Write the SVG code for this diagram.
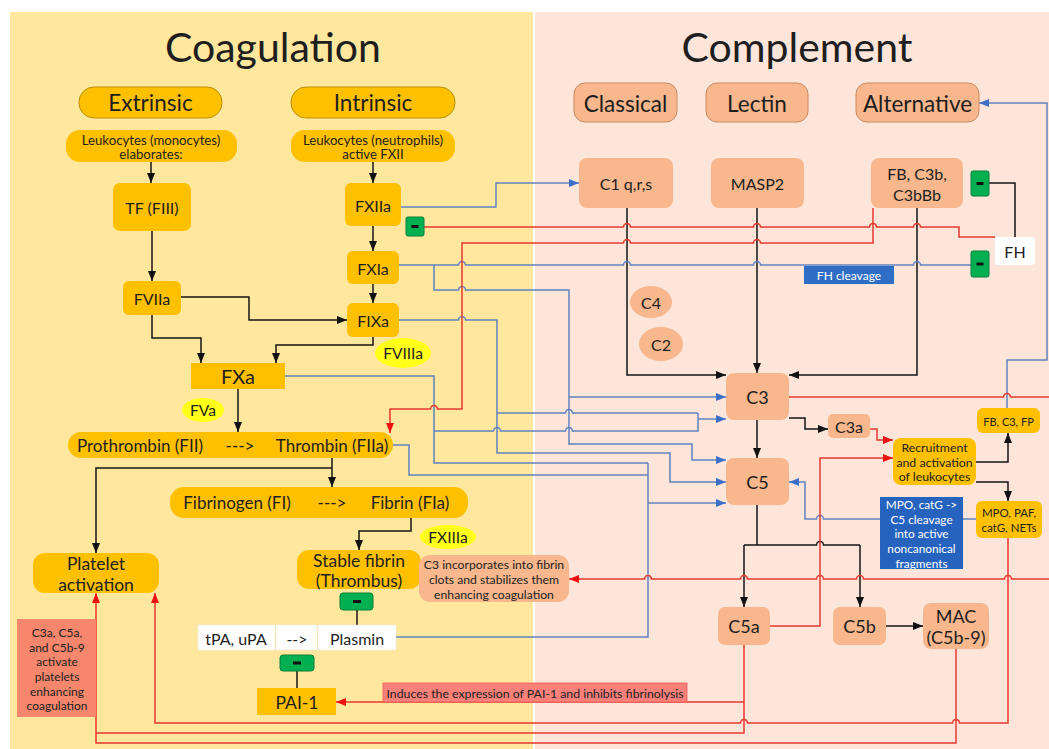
<svg xmlns="http://www.w3.org/2000/svg" width="1049" height="749" viewBox="0 0 1049 749">
<defs>
<style>
.t{font-family:Lato,"Open Sans","Liberation Sans",sans-serif;fill:#1e1e1e;text-anchor:middle;dominant-baseline:central}
.w{fill:#fff}
.or{fill:#FFC000}
.pl{fill:#FFC000;stroke:#B8900A;stroke-width:1}
.sa{fill:#F8B78C}
.sp{fill:#F8B78C;stroke:#C98A60;stroke-width:1}
.ye{fill:#FFFF1A}
.gr{fill:#00B050;stroke:#00803A;stroke-width:1}
.mb{fill:#111}
.bb{fill:#2F6EC4}
.wb{fill:#fff;stroke:#e6e6e6;stroke-width:0.5}
.bk{stroke:#151515;stroke-width:1.5;fill:none}
.bl{stroke:#5F82C0;stroke-width:1.5;fill:none}
.rd{stroke:#E8392F;stroke-width:1.5;fill:none}
.ak{marker-end:url(#ak)}
.ab{marker-end:url(#ab)}
.ar{marker-end:url(#ar)}
</style>
<marker id="ak" viewBox="0 0 10 10" refX="10" refY="5" markerWidth="10" markerHeight="10" markerUnits="userSpaceOnUse" orient="auto"><path d="M0,1 L10,5 L0,9 z" fill="#111"/></marker>
<marker id="ab" viewBox="0 0 10 10" refX="10" refY="5" markerWidth="10" markerHeight="10" markerUnits="userSpaceOnUse" orient="auto"><path d="M0,1 L10,5 L0,9 z" fill="#3C70C8"/></marker>
<marker id="ar" viewBox="0 0 10 10" refX="10" refY="5" markerWidth="10" markerHeight="10" markerUnits="userSpaceOnUse" orient="auto"><path d="M0,1 L10,5 L0,9 z" fill="#F01010"/></marker>
</defs>
<rect width="1049" height="749" fill="#fff"/>
<rect x="10" y="12" width="523" height="737" fill="#FFE79E"/>
<rect x="535" y="12" width="514" height="737" fill="#FDE5DA"/>
<text class="t" x="273" y="46" font-size="41">Coagulation</text>
<text class="t" x="797" y="46" font-size="41">Complement</text>

<g id="connectors">
<path class="bk ak" d="M151,162 V183"/>
<path class="bk ak" d="M373,162 V183"/>
<path class="bk ak" d="M152,231 V281"/>
<path class="bk ak" d="M373,226 V251"/>
<path class="bk ak" d="M373,284 V303"/>
<path class="bk ak" d="M181,297 H249 V320 H347"/>
<path class="bk ak" d="M152,315 V338 H201 V363"/>
<path class="bk ak" d="M373,337 V345 H276 V363"/>
<path class="bk ak" d="M238,389 V432"/>
<path class="bk ak" d="M332,458 V487"/>
<path class="bk ak" d="M332,468 H96 V553"/>
<path class="bk ak" d="M411,518 V531 H359 V550"/>
<path class="bk" d="M357,610 V625"/>
<path class="bk" d="M297,671 V688"/>
<path class="bk" d="M989,183 H1015 V237"/>
<path class="bk ak" d="M627,208 V375 H726"/>
<path class="bk ak" d="M757,208 V373"/>
<path class="bk ak" d="M917,208 V375 H789"/>
<path class="bk ak" d="M789,418 H805 V429 H828"/>
<path class="bk ak" d="M757,420 V458"/>
<path class="bk" d="M757,505 V545 M744,545 H816.5 a3.5,3.5 0 0 1 7,0 H860"/>
<path class="bk ak" d="M744,545 V607"/>
<path class="bk ak" d="M860,545 V607"/>
<path class="bk ak" d="M886,626 H923"/>
<path class="bk ak" d="M976,462 H1008 V433"/>
<path class="bk ak" d="M976,482 H1008 V501"/>

<path class="bl ab" d="M401,207 H496 V183 H579"/>
<path class="bl" d="M399,265 H458.5 a3.5,3.5 0 0 1 7,0 H623.5 a3.5,3.5 0 0 1 7,0 H753.5 a3.5,3.5 0 0 1 7,0 H913.5 a3.5,3.5 0 0 1 7,0 H971"/>
<path class="bl ab" d="M434,265 V290 H458.5 a3.5,3.5 0 0 1 7,0 H569 V444 H692 V460 H726"/>
<path class="bl ab" d="M569,397 H726"/>
<path class="bl ab" d="M399,320 H458.5 a3.5,3.5 0 0 1 7,0 H497 V453 H670 V482 H726"/>
<path class="bl" d="M497,413 H565.5 a3.5,3.5 0 0 1 7,0 H698"/>
<path class="bl" d="M285,376 H434 V463 H648"/>
<path class="bl" d="M434,431 H493.5 a3.5,3.5 0 0 1 7,0 H565.5 a3.5,3.5 0 0 1 7,0 H698 V413"/>
<path class="bl ab" d="M698,419 H726"/>
<path class="bl" d="M393,445 H409 V475 H648"/>
<path class="bl" d="M396,637 H648 V463"/>
<path class="bl ab" d="M648,503 H726"/>
<path class="bl" d="M976,519 H963"/>
<path class="bl ab" d="M880,519 H823.5 a3.5,3.5 0 0 0 -7,0 H805 V482 H789"/>
<path class="bl ab" d="M1007,408 V360 H1047 V103 H979"/>

<path class="rd" d="M424,227 H623.5 a3.5,3.5 0 0 1 7,0 H753.5 a3.5,3.5 0 0 1 7,0 H869.5 a3.5,3.5 0 0 1 7,0 H913.5 a3.5,3.5 0 0 1 7,0 H959 V237 H995"/>
<path class="rd ar" d="M873,208 V243 H760.5 a3.5,3.5 0 0 0 -7,0 H630.5 a3.5,3.5 0 0 0 -7,0 H462 V409 H437.5 a3.5,3.5 0 0 0 -7,0 H390 V433"/>
<path class="rd ar" d="M789,397 H1003.5 a3.5,3.5 0 0 1 7,0 H1052 V579 H1011.5 a3.5,3.5 0 0 0 -7,0 H863.5 a3.5,3.5 0 0 0 -7,0 H823.5 a3.5,3.5 0 0 0 -7,0 H747.5 a3.5,3.5 0 0 0 -7,0 H651.5 a3.5,3.5 0 0 0 -7,0 H569"/>
<path class="rd ar" d="M870,429 H877 V440 H893"/>
<path class="rd ar" d="M770,626 H820 V458 H893"/>
<path class="rd" d="M744,645 V733 H96"/>
<path class="rd ar" d="M744,702 H336"/>
<path class="rd ar" d="M1008,538 V723 H959.5 a3.5,3.5 0 0 0 -7,0 H747.5 a3.5,3.5 0 0 0 -7,0 H155 V593"/>
<path class="rd ar" d="M956,649 V743 H96 V593"/>
</g>

<g id="extrinsic"><rect class="pl" x="79" y="87" width="143" height="31" rx="15"/><text class="t" x="150.5" y="102.5" font-size="22.5">Extrinsic</text></g>
<g id="intrinsic"><rect class="pl" x="291" y="87" width="164" height="31" rx="15"/><text class="t" x="373" y="102.5" font-size="22.5">Intrinsic</text></g>
<g id="monocytes"><rect class="or" x="66" y="130" width="171" height="32" rx="14"/><text class="t" x="151" y="139.5" font-size="13.2">Leukocytes (monocytes)</text><text class="t" x="151" y="154" font-size="13.2">elaborates:</text></g>
<g id="neutrophils"><rect class="or" x="291" y="130" width="164" height="32" rx="14"/><text class="t" x="373" y="139.5" font-size="13.2">Leukocytes (neutrophils)</text><text class="t" x="373" y="154" font-size="13.2">active FXII</text></g>
<g id="tf"><rect class="or" x="113" y="183" width="78" height="48" rx="7"/><text class="t" x="152" y="207" font-size="16">TF (FIII)</text></g>
<g id="fxiia"><rect class="or" x="345" y="183" width="56" height="43" rx="6"/><text class="t" x="373" y="205" font-size="16">FXIIa</text></g>
<g id="fxia"><rect class="or" x="347" y="251" width="52" height="33" rx="6"/><text class="t" x="373" y="268" font-size="16">FXIa</text></g>
<g id="fixa"><rect class="or" x="347" y="303" width="52" height="34" rx="6"/><text class="t" x="373" y="320" font-size="16">FIXa</text></g>
<g id="fviia"><rect class="or" x="123" y="281" width="58" height="34" rx="6"/><text class="t" x="152" y="298" font-size="16">FVIIa</text></g>
<g id="fviiia"><ellipse class="ye" cx="403" cy="353" rx="28" ry="15"/><text class="t" x="403" y="353" font-size="15.5">FVIIIa</text></g>
<g id="fxa"><rect class="or" x="191" y="363" width="94" height="26"/><text class="t" x="238" y="376" font-size="20">FXa</text></g>
<g id="fva"><ellipse class="ye" cx="203" cy="410" rx="21" ry="12"/><text class="t" x="203" y="410" font-size="15.5">FVa</text></g>
<g id="prothrombin"><rect class="or" x="68" y="432" width="325" height="26" rx="13"/><text class="t" x="140" y="445" font-size="17">Prothrombin (FII)</text><text class="t" x="240" y="445" font-size="17">---&gt;</text><text class="t" x="332" y="445" font-size="17">Thrombin (FIIa)</text></g>
<g id="fibrinogen"><rect class="or" x="170" y="487" width="298" height="31" rx="14"/><text class="t" x="237" y="502" font-size="17">Fibrinogen (FI)</text><text class="t" x="332" y="502" font-size="17">---&gt;</text><text class="t" x="410" y="502" font-size="17">Fibrin (FIa)</text></g>
<g id="fxiiia"><ellipse class="ye" cx="448" cy="537" rx="28" ry="12"/><text class="t" x="448" y="537" font-size="15.5">FXIIIa</text></g>
<g id="stable-fibrin"><rect class="or" x="297" y="550" width="124" height="39" rx="12"/><text class="t" x="359" y="560" font-size="17.5">Stable fibrin</text><text class="t" x="359" y="580" font-size="17.5">(Thrombus)</text></g>
<g id="platelet"><rect class="or" x="33" y="553" width="126" height="40" rx="12"/><text class="t" x="96" y="563" font-size="17.5">Platelet</text><text class="t" x="96" y="584" font-size="17.5">activation</text></g>
<g id="c3a-c5a-note"><rect x="17" y="619" width="79" height="98" fill="#F7876C"/><text class="t" x="57" y="632" font-size="12">C3a, C5a,</text><text class="t" x="57" y="647" font-size="12">and C5b-9</text><text class="t" x="57" y="661" font-size="12">activate</text><text class="t" x="57" y="676" font-size="12">platelets</text><text class="t" x="57" y="691" font-size="12">enhancing</text><text class="t" x="57" y="705" font-size="12">coagulation</text></g>
<g id="tpa"><rect class="wb" x="198" y="625" width="77" height="25"/><text class="t" x="236" y="638" font-size="16">tPA, uPA</text></g>
<g id="arrow-text"><rect class="wb" x="276" y="625" width="41" height="25"/><text class="t" x="297" y="638" font-size="16">--&gt;</text></g>
<g id="plasmin"><rect class="wb" x="318" y="625" width="78" height="25"/><text class="t" x="357" y="638" font-size="16">Plasmin</text></g>
<g id="pai1"><rect class="or" x="257" y="688" width="79" height="27"/><text class="t" x="297" y="702" font-size="17.5">PAI-1</text></g>
<g id="induces"><rect x="383" y="683" width="304" height="19" fill="#F9817A" stroke="#F45A55" stroke-width="0.8"/><text class="t" x="535" y="693" font-size="12.3">Induces the expression of PAI-1 and inhibits fibrinolysis</text></g>
<g id="c3-incorporates"><rect class="sa" x="419" y="555" width="150" height="47" rx="11"/><text class="t" x="494" y="564" font-size="12.2">C3 incorporates into fibrin</text><text class="t" x="494" y="579" font-size="12.2">clots and stabilizes them</text><text class="t" x="494" y="594" font-size="12.2">enhancing coagulation</text></g>

<g id="inh-fxiia"><rect class="gr" x="406" y="217" width="18" height="19" rx="2"/><rect class="mb" x="411.5" y="225" width="7" height="3"/></g>
<g id="inh-fb"><rect class="gr" x="971" y="171" width="18" height="25" rx="2"/><rect class="mb" x="976.5" y="182" width="7" height="3"/></g>
<g id="inh-fh"><rect class="gr" x="971" y="251" width="18" height="26" rx="2"/><rect class="mb" x="976.5" y="262.5" width="7" height="3"/></g>
<g id="inh-plasmin"><rect class="gr" x="340" y="593" width="33" height="17" rx="3"/><rect class="mb" x="353" y="600" width="8" height="3"/></g>
<g id="inh-pai"><rect class="gr" x="280" y="655" width="34" height="16" rx="3"/><rect class="mb" x="293" y="661.5" width="8" height="3"/></g>

<g id="classical"><rect class="sp" x="574" y="83" width="103" height="39" rx="11"/><text class="t" x="625.5" y="103" font-size="22.5">Classical</text></g>
<g id="lectin"><rect class="sp" x="706" y="83" width="102" height="39" rx="11"/><text class="t" x="757" y="103" font-size="22.5">Lectin</text></g>
<g id="alternative"><rect class="sp" x="856" y="83" width="123" height="39" rx="11"/><text class="t" x="917.5" y="103" font-size="22.5">Alternative</text></g>
<g id="c1"><rect class="sa" x="579" y="158" width="94" height="50" rx="8"/><text class="t" x="626" y="183" font-size="16">C1 q,r,s</text></g>
<g id="masp2"><rect class="sa" x="711" y="158" width="93" height="50" rx="8"/><text class="t" x="757.5" y="183" font-size="16">MASP2</text></g>
<g id="fb-c3b"><rect class="sa" x="871" y="158" width="92" height="50" rx="8"/><text class="t" x="917" y="173" font-size="16">FB, C3b,</text><text class="t" x="917" y="194" font-size="16">C3bBb</text></g>
<g id="fh"><rect x="995" y="237" width="40" height="28" rx="3" fill="#fff"/><text class="t" x="1015" y="251" font-size="16">FH</text></g>
<g id="fh-cleavage"><rect class="bb" x="804" y="266" width="90" height="18"/><text class="t w" x="849" y="275" font-size="12">FH cleavage</text></g>
<g id="c4"><ellipse class="sa" cx="651" cy="302" rx="21" ry="16"/><text class="t" x="651" y="302" font-size="16">C4</text></g>
<g id="c2"><ellipse class="sa" cx="661" cy="344" rx="22" ry="17"/><text class="t" x="661" y="344" font-size="16">C2</text></g>
<g id="c3"><rect class="sa" x="726" y="373" width="63" height="47" rx="8"/><text class="t" x="757.5" y="397" font-size="18">C3</text></g>
<g id="c3a"><rect class="sa" x="828" y="414" width="42" height="24" rx="5"/><text class="t" x="849" y="426" font-size="16">C3a</text></g>
<g id="recruitment"><rect class="or" x="893" y="438" width="83" height="47" rx="8"/><text class="t" x="934.5" y="447" font-size="12.3">Recruitment</text><text class="t" x="934.5" y="462" font-size="12.3">and activation</text><text class="t" x="934.5" y="476" font-size="12.3">of leukocytes</text></g>
<g id="fb-c3-fp"><rect class="or" x="977" y="408" width="63" height="25" rx="6"/><text class="t" x="1008.5" y="421" font-size="11">FB, C3, FP</text></g>
<g id="mpo-paf"><rect class="or" x="976" y="501" width="66" height="37" rx="6"/><text class="t" x="1009" y="512.5" font-size="11.5">MPO, PAF,</text><text class="t" x="1009" y="527.5" font-size="11.5">catG, NETs</text></g>
<g id="mpo-cleavage"><rect x="880" y="497" width="83" height="72" fill="#2563BE"/><text class="t w" x="921.5" y="504" font-size="11.8">MPO, catG -&gt;</text><text class="t w" x="921.5" y="519" font-size="11.8">C5 cleavage</text><text class="t w" x="921.5" y="533.5" font-size="11.8">into active</text><text class="t w" x="921.5" y="548" font-size="11.8">noncanonical</text><text class="t w" x="921.5" y="563" font-size="11.8">fragments</text></g>
<g id="c5"><rect class="sa" x="726" y="458" width="63" height="47" rx="8"/><text class="t" x="757.5" y="482" font-size="18">C5</text></g>
<g id="c5a"><rect class="sa" x="718" y="607" width="52" height="38" rx="7"/><text class="t" x="744" y="626" font-size="18">C5a</text></g>
<g id="c5b"><rect class="sa" x="833" y="607" width="53" height="38" rx="7"/><text class="t" x="859.5" y="626" font-size="18">C5b</text></g>
<g id="mac"><rect class="sa" x="923" y="603" width="66" height="46" rx="8"/><text class="t" x="956" y="616" font-size="18">MAC</text><text class="t" x="956" y="637" font-size="18">(C5b-9)</text></g>
</svg>
